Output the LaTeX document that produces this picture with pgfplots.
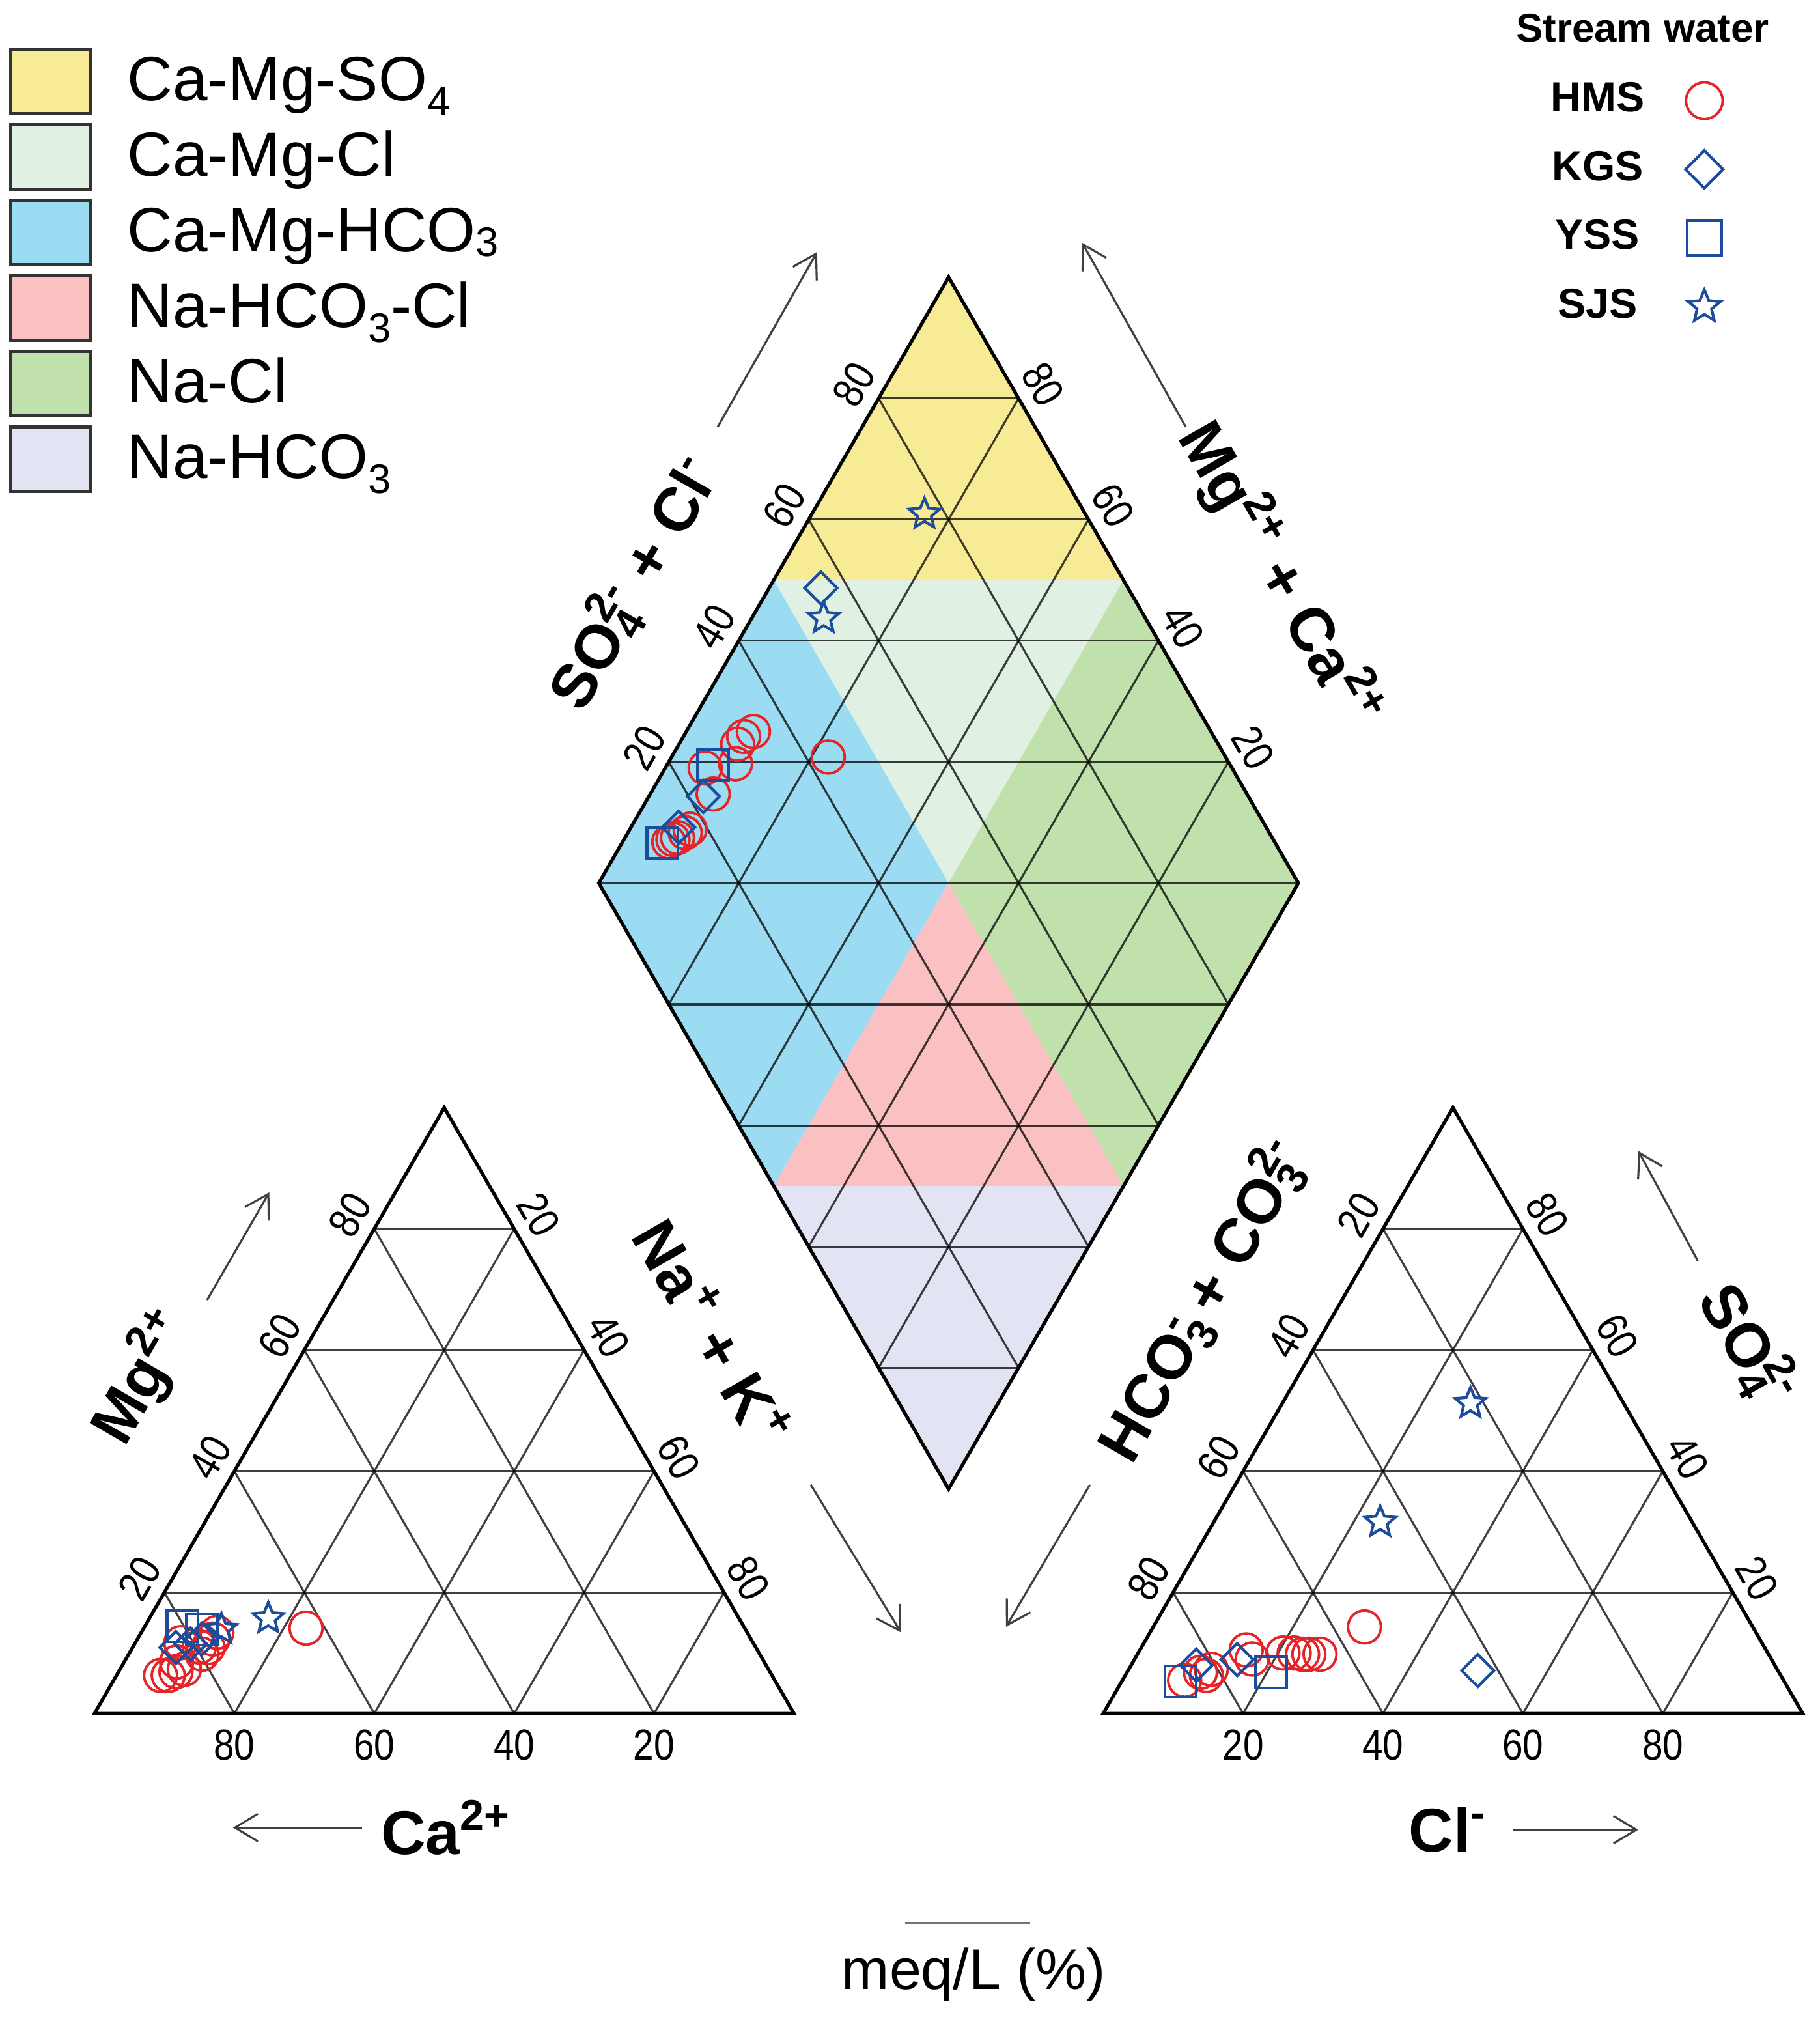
\documentclass[border=0pt]{standalone}
\usepackage{pgfplots}
\pgfplotsset{compat=1.18}
\usetikzlibrary{plotmarks,arrows.meta}
\usepackage{fontspec}
\setmainfont{Liberation Sans}
\newfontfamily\narrowfont[FakeStretch=0.85]{Liberation Sans}

\definecolor{cSO}{RGB}{248,235,150}
\definecolor{cCl}{RGB}{224,241,227}
\definecolor{cHC}{RGB}{156,220,242}
\definecolor{cNHC}{RGB}{251,192,194}
\definecolor{cNC}{RGB}{192,224,172}
\definecolor{cNH}{RGB}{227,228,243}
\definecolor{hmsred}{RGB}{230,36,40}
\definecolor{sblue}{RGB}{28,76,156}

% open five-pointed star
\pgfdeclareplotmark{ostar}{%
  \pgfpathmoveto{\pgfpointpolar{90}{\pgfplotmarksize}}%
  \pgfpathlineto{\pgfpointpolar{126}{0.45\pgfplotmarksize}}%
  \pgfpathlineto{\pgfpointpolar{162}{\pgfplotmarksize}}%
  \pgfpathlineto{\pgfpointpolar{198}{0.45\pgfplotmarksize}}%
  \pgfpathlineto{\pgfpointpolar{234}{\pgfplotmarksize}}%
  \pgfpathlineto{\pgfpointpolar{270}{0.45\pgfplotmarksize}}%
  \pgfpathlineto{\pgfpointpolar{306}{\pgfplotmarksize}}%
  \pgfpathlineto{\pgfpointpolar{342}{0.45\pgfplotmarksize}}%
  \pgfpathlineto{\pgfpointpolar{18}{\pgfplotmarksize}}%
  \pgfpathlineto{\pgfpointpolar{54}{0.45\pgfplotmarksize}}%
  \pgfpathclose\pgfusepathqstroke}

\newcommand\lsub[2]{\raisebox{-#1}{\fontsize{9}{9}\selectfont #2}}

\begin{document}
\begin{tikzpicture}[
    grd/.style={draw=black, opacity=0.75, line width=0.45pt},
    edge/.style={draw=black, line width=0.75pt, line join=miter},
    tk/.style={font=\narrowfont\fontsize{9.5}{11}\selectfont, inner sep=0pt},
    ttl/.style={font=\bfseries\fontsize{13.5}{15}\selectfont, inner sep=0pt},
    arr/.style={draw=black!75, line width=0.45pt, -{Straight Barb[length=5pt,width=6pt]}},
    swatch/.style={draw=black!80, line width=0.7pt},
]
\begin{axis}[
    scale only axis,
    width=13.97cm, height=15.57cm,
    xmin=-13.5, xmax=246.58,
    ymin=-44.94, ymax=244.92,
    hide axis, clip=false,
    hms/.style={only marks, mark=o, color=hmsred, mark size=3.6pt, mark options={line width=0.55pt}},
    kgs/.style={only marks, mark=square, color=sblue, mark size=2.5pt, mark options={rotate=45, line width=0.6pt}},
    yss/.style={only marks, mark=square, color=sblue, mark size=3.4pt, mark options={line width=0.6pt}},
    sjs/.style={only marks, mark=ostar, color=sblue, mark size=3.5pt, mark options={line width=0.6pt, line join=miter}},
    legend style={at={(axis cs:220.5,215.8)}, anchor=center, draw=none, fill=none,
        inner sep=0pt, font=\bfseries\fontsize{9.2}{10}\selectfont, row sep=0pt,
        column sep=9pt,
        nodes={minimum height=15pt, inner sep=0pt, outer sep=0pt}},
    legend plot pos=right,
    legend cell align=center,
]
\coordinate (bl) at (rel axis cs:0,0);
\coordinate (tr) at (rel axis cs:1,1);

% hydrochemical facies in the diamond
\fill[cSO]  (axis cs:97.1,162) -- (axis cs:122.1,205.3) -- (axis cs:147.1,162) -- cycle;
\fill[cCl]  (axis cs:97.1,162) -- (axis cs:147.1,162) -- (axis cs:122.1,118.7) -- cycle;
\fill[cHC]  (axis cs:72.1,118.7) -- (axis cs:97.1,162) -- (axis cs:122.1,118.7) -- (axis cs:97.1,75.4) -- cycle;
\fill[cNC]  (axis cs:122.1,118.7) -- (axis cs:147.1,162) -- (axis cs:172.1,118.7) -- (axis cs:147.1,75.4) -- cycle;
\fill[cNHC] (axis cs:122.1,118.7) -- (axis cs:97.1,75.4) -- (axis cs:147.1,75.4) -- cycle;
\fill[cNH]  (axis cs:97.1,75.4) -- (axis cs:122.1,32.1) -- (axis cs:147.1,75.4) -- cycle;

% grid lines
\pgfplotsinvokeforeach{20,40,60,80}{
  \draw[grd] (axis cs:{0.5*#1},{0.866*#1}) -- (axis cs:{100-0.5*#1},{0.866*#1});
  \draw[grd] (axis cs:#1,0) -- (axis cs:{50+0.5*#1},{86.6-0.866*#1});
  \draw[grd] (axis cs:{100-#1},0) -- (axis cs:{50-0.5*#1},{86.6-0.866*#1});
  \draw[grd] (axis cs:{144.2+0.5*#1},{0.866*#1}) -- (axis cs:{244.2-0.5*#1},{0.866*#1});
  \draw[grd] (axis cs:{144.2+#1},0) -- (axis cs:{194.2+0.5*#1},{86.6-0.866*#1});
  \draw[grd] (axis cs:{244.2-#1},0) -- (axis cs:{194.2-0.5*#1},{86.6-0.866*#1});
  \draw[grd] (axis cs:{122.1+0.5*#1},{32.1+0.866*#1}) -- (axis cs:{72.1+0.5*#1},{118.7+0.866*#1});
  \draw[grd] (axis cs:{122.1-0.5*#1},{32.1+0.866*#1}) -- (axis cs:{172.1-0.5*#1},{118.7+0.866*#1});
  \draw[grd] (axis cs:{122.1-0.5*#1},{32.1+0.866*#1}) -- (axis cs:{122.1+0.5*#1},{32.1+0.866*#1});
  \draw[grd] (axis cs:{122.1-0.5*#1},{205.3-0.866*#1}) -- (axis cs:{122.1+0.5*#1},{205.3-0.866*#1});
}
\draw[grd] (axis cs:72.1,118.7) -- (axis cs:172.1,118.7);

% outlines
\draw[edge] (axis cs:0,0) -- (axis cs:100,0) -- (axis cs:50,86.6) -- cycle;
\draw[edge] (axis cs:144.2,0) -- (axis cs:244.2,0) -- (axis cs:194.2,86.6) -- cycle;
\draw[edge] (axis cs:122.1,32.1) -- (axis cs:172.1,118.7) -- (axis cs:122.1,205.3) -- (axis cs:72.1,118.7) -- cycle;

% tick labels
\pgfplotsinvokeforeach{20,40,60,80}{
  \node[tk, rotate=60] at (axis cs:{0.5*#1-3.5},{0.866*#1+2.0}) {#1};
  \node[tk, rotate=-60] at (axis cs:{53.5+0.5*#1},{88.6-0.866*#1}) {#1};
  \node[tk] at (axis cs:{100-#1},-4.5) {#1};
  \node[tk, rotate=60] at (axis cs:{190.7-0.5*#1},{88.6-0.866*#1}) {#1};
  \node[tk, rotate=-60] at (axis cs:{247.7-0.5*#1},{0.866*#1+2.0}) {#1};
  \node[tk] at (axis cs:{144.2+#1},-4.5) {#1};
  \node[tk, rotate=60] at (axis cs:{68.6+0.5*#1},{120.7+0.866*#1}) {#1};
  \node[tk, rotate=-60] at (axis cs:{175.6-0.5*#1},{120.7+0.866*#1}) {#1};
}

% axis titles and arrows
\node[ttl, rotate=60] at (axis cs:77.1,161.7) {SO\rlap{\textsubscript{4}}\textsuperscript{2-} + Cl\textsuperscript{-}};
\node[ttl, rotate=-60] at (axis cs:169.5,162.7) {Mg\textsuperscript{2+} + Ca\textsuperscript{2+}};
\node[ttl, rotate=60] at (axis cs:6.8,48.1) {Mg\textsuperscript{2+}};
\node[ttl, rotate=-60] at (axis cs:88.5,54.5) {Na\textsuperscript{+} + K\textsuperscript{+}};
\node[ttl, rotate=60] at (axis cs:158.4,59.1) {HCO\rlap{\textsubscript{3}}\textsuperscript{-} + CO\rlap{\textsubscript{3}}\textsuperscript{2-}};
\node[ttl, rotate=-60] at (axis cs:236.4,52.7) {SO\rlap{\textsubscript{4}}\textsuperscript{2-}};
\node[ttl] at (axis cs:50.3,-16.3) {Ca\textsuperscript{2+}};
\node[ttl] at (axis cs:193.5,-16.6) {Cl\textsuperscript{-}};
\node[font=\fontsize{12.5}{14}\selectfont, inner sep=0pt] at (axis cs:125.7,-37.3) {meq/L (\%)};
\draw[black!55, line width=0.5pt] (axis cs:115.9,-29.9) -- (axis cs:133.8,-29.9);

\draw[arr] (axis cs:16.1,59.1) -- (axis cs:25.0,74.5);
\draw[arr] (axis cs:102.4,32.7) -- (axis cs:115.3,11.6);
\draw[arr] (axis cs:38.3,-16.3) -- (axis cs:19.8,-16.3);
\draw[arr] (axis cs:142.3,32.7) -- (axis cs:130.3,12.4);
\draw[arr] (axis cs:229.2,64.7) -- (axis cs:220.7,80.4);
\draw[arr] (axis cs:202.8,-16.6) -- (axis cs:220.7,-16.6);
\draw[arr] (axis cs:89.1,183.9) -- (axis cs:103.3,208.9);
\draw[arr] (axis cs:156.0,183.9) -- (axis cs:141.2,210.2);

% facies legend
\draw[swatch, fill=cSO]  (axis cs:-12.0,237.90) rectangle (axis cs:-0.55,228.66);
\draw[swatch, fill=cCl]  (axis cs:-12.0,227.11) rectangle (axis cs:-0.55,217.87);
\draw[swatch, fill=cHC]  (axis cs:-12.0,216.31) rectangle (axis cs:-0.55,207.07);
\draw[swatch, fill=cNHC] (axis cs:-12.0,205.52) rectangle (axis cs:-0.55,196.28);
\draw[swatch, fill=cNC]  (axis cs:-12.0,194.72) rectangle (axis cs:-0.55,185.48);
\draw[swatch, fill=cNH]  (axis cs:-12.0,183.93) rectangle (axis cs:-0.55,174.69);
\begin{scope}[every node/.style={anchor=base west, inner sep=0pt, font=\fontsize{13.7}{15}\selectfont}]
\node at (axis cs:4.6,230.50) {Ca-Mg-SO\lsub{3.2pt}{4}};
\node at (axis cs:4.6,219.71) {Ca-Mg-Cl};
\node at (axis cs:4.6,208.91) {Ca-Mg-HCO\lsub{1pt}{3}};
\node at (axis cs:4.6,198.12) {Na-HCO\lsub{3.2pt}{3}-Cl};
\node at (axis cs:4.6,187.32) {Na-Cl};
\node at (axis cs:4.6,176.53) {Na-HCO\lsub{3.2pt}{3}};
\end{scope}
\node[font=\bfseries\fontsize{8.8}{10}\selectfont, inner sep=0pt] at (axis cs:221.3,240.9) {Stream water};

% cation triangle: Na+K (%) and Mg (%)
\addplot[hms, forget plot] table[x expr={\thisrow{Na}+0.5*\thisrow{Mg}}, y expr={0.866*\thisrow{Mg}}] {
Na Mg
23.2 14.1
6.3 6.3
7.4 6.3
8.2 6.9
9.2 7.3
10.8 12.3
10.8 10.9
10.5 9.8
10.8 13.4
6.5 11.7
9.5 11.0
7.5 8.5
};
\addplot[kgs, forget plot] table[x expr={\thisrow{Na}+0.5*\thisrow{Mg}}, y expr={0.866*\thisrow{Mg}}] {
Na Mg
6.2 10.9
9.2 12.3
8.0 11.5
};
\addplot[yss, forget plot] table[x expr={\thisrow{Na}+0.5*\thisrow{Mg}}, y expr={0.866*\thisrow{Mg}}] {
Na Mg
5.4 14.4
8.4 13.9
};
\addplot[sjs, forget plot] table[x expr={\thisrow{Na}+0.5*\thisrow{Mg}}, y expr={0.866*\thisrow{Mg}}] {
Na Mg
17.0 15.7
11.2 13.9
};

% diamond: SO4+Cl (%) and Ca+Mg (%)
\addplot[hms, forget plot] table[x expr={122.1+0.5*(\thisrow{A}-\thisrow{C})}, y expr={32.1+0.866*(\thisrow{A}+\thisrow{C})}] {
A C
34.6 90.4
32.8 91.4
31.3 91.6
29.4 90.3
24.7 94.3
23.7 91.0
17.5 91.4
16.5 91.8
15.0 92.5
14.2 93.0
13.4 93.4
43.2 77.6
};
\addplot[kgs, forget plot] table[x expr={122.1+0.5*(\thisrow{A}-\thisrow{C})}, y expr={32.1+0.866*(\thisrow{A}+\thisrow{C})}] {
A C
22.1 92.2
16.0 93.2
56.1 92.6
};
\addplot[yss, forget plot] table[x expr={122.1+0.5*(\thisrow{A}-\thisrow{C})}, y expr={32.1+0.866*(\thisrow{A}+\thisrow{C})}] {
A C
26.1 93.4
12.4 94.2
};
\addplot[sjs, forget plot] table[x expr={122.1+0.5*(\thisrow{A}-\thisrow{C})}, y expr={32.1+0.866*(\thisrow{A}+\thisrow{C})}] {
A C
77.0 83.9
54.0 89.7
};

% anion triangle: Cl (%) and SO4 (%)
\addplot[hms, forget plot] table[x expr={144.2+\thisrow{Cl}+0.5*\thisrow{SO}}, y expr={0.866*\thisrow{SO}}] {
Cl SO
30.2 14.3
26.1 9.8
24.5 9.8
23.6 9.8
22.3 10.0
20.7 10.0
15.2 10.5
16.8 9.0
11.8 7.3
11.6 6.3
10.5 6.8
8.9 5.5
};
\addplot[kgs, forget plot] table[x expr={144.2+\thisrow{Cl}+0.5*\thisrow{SO}}, y expr={0.866*\thisrow{SO}}] {
Cl SO
14.7 8.9
9.3 8.0
50.0 7.1
};
\addplot[yss, forget plot] table[x expr={144.2+\thisrow{Cl}+0.5*\thisrow{SO}}, y expr={0.866*\thisrow{SO}}] {
Cl SO
20.6 6.8
8.4 5.3
};
\addplot[sjs, forget plot] table[x expr={144.2+\thisrow{Cl}+0.5*\thisrow{SO}}, y expr={0.866*\thisrow{SO}}] {
Cl SO
26.9 51.2
23.8 31.6
};

\addlegendimage{hms, mark size=4pt}
\addlegendimage{kgs, mark size=2.9pt}
\addlegendimage{yss, mark size=3.8pt}
\addlegendimage{sjs, mark size=3.7pt}
\legend{HMS, KGS, YSS, SJS}
\end{axis}
\pgfresetboundingbox
\path (bl) rectangle (tr);
\end{tikzpicture}
\end{document}
